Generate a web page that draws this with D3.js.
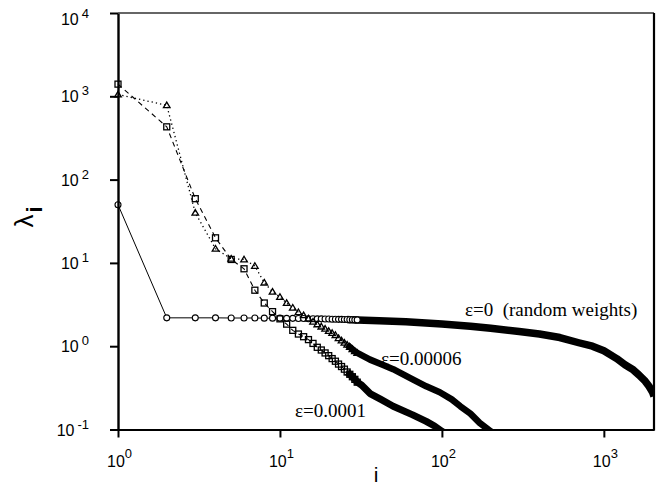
<!DOCTYPE html>
<html><head><meta charset="utf-8">
<script src="https://cdn.jsdelivr.net/npm/d3@7"></script>
<style>body{margin:0;background:#fff}svg{display:block}</style>
</head><body><svg id="c" width="665" height="487"></svg>
<script>
// ---------- data ----------
const rankLow = [1,2,3,4,5,6,7,8,9,10,11,12,13,14,15,16,17,18,19,20,21,22,23,24,25,26,27,28,29,30];
// eps = 0 (random weights), circles
const epsZeroLow = [50,2.19,2.19,2.19,2.18,2.18,2.18,2.17,2.17,2.17,2.16,2.16,2.15,2.15,2.14,2.14,2.13,2.13,2.12,2.12,2.11,2.11,2.1,2.1,2.09,2.09,2.08,2.08,2.07,2.07];
const epsZeroTailRank = [41,60,100,150,200,300,400,535,700,850,1000,1200,1350,1500,1650,1800,1900,2000,2040];
const epsZeroTailVal  = [2.02,1.96,1.85,1.74,1.64,1.5,1.4,1.27,1.1,1.0,0.88,0.71,0.6,0.53,0.45,0.38,0.33,0.28,0.25];
// eps = 0.0001, squares
const eps1Low = [1400,430,59,20,11,8.5,4.7,3.3,2.6,2.13,1.84,1.55,1.4,1.3,1.2,1.08,0.97,0.9,0.83,0.77,0.71,0.66,0.61,0.57,0.53,0.49,0.46,0.43,0.4,0.37];
const eps1TailRank = [32,36,42,50,66,80,90,100,110];
const eps1TailVal  = [0.34,0.27,0.23,0.19,0.15,0.125,0.11,0.095,0.085];
// eps = 0.00006, triangles
const eps2Low = [1050,780,40,14.8,11.2,11,9.2,5.8,4.5,3.9,3.3,2.9,2.56,2.35,2.15,1.97,1.83,1.72,1.62,1.52,1.44,1.36,1.25,1.17,1.1,1.04,0.98,0.92,0.87,0.83];
const eps2TailRank = [36,43,50,66,80,97,115,130,150,171,200,220];
const eps2TailVal  = [0.69,0.6,0.53,0.4,0.33,0.28,0.23,0.19,0.155,0.12,0.095,0.085];

const xTicks = [1,10,100,1000];
const xTickExp = ["0","1","2","3"];
const yTicks = [0.1,1,10,100,1000,10000];
const yTickExp = ["-1","0","1","2","3","4"];
const seriesLabels = ["\u03b5=0  (random weights)","\u03b5=0.00006","\u03b5=0.0001"];

// ---------- drawing ----------
const svg = d3.select("#c");
const L = 118, R = 654, T = 13, B = 429.5;
const x = d3.scaleLog().domain([1, 2040]).range([L, R]);
const y = d3.scaleLog().domain([0.1, 10000]).range([B, T]);

svg.append("rect").attr("width",665).attr("height",487).attr("fill","#fff");
svg.append("defs").append("clipPath").attr("id","clip")
  .append("rect").attr("x",112).attr("y",T-6).attr("width",R-112).attr("height",B-T+6);

const pairs = (r, v) => r.map((d,k)=>[d, v[k]]);
const zeroLow = pairs(rankLow, epsZeroLow), zeroTail = pairs(epsZeroTailRank, epsZeroTailVal);
const e1Low = pairs(rankLow, eps1Low), e1Tail = pairs(eps1TailRank, eps1TailVal);
const e2Low = pairs(rankLow, eps2Low), e2Tail = pairs(eps2TailRank, eps2TailVal);

const line = d3.line().x(d=>x(d[0])).y(d=>y(d[1]));
const plot = svg.append("g").attr("clip-path","url(#clip)");

// thin connecting lines
plot.append("path").datum(zeroLow.concat(zeroTail)).attr("d",line)
  .attr("fill","none").attr("stroke","#000").attr("stroke-width",1);
plot.append("path").datum(e1Low.concat(e1Tail)).attr("d",line)
  .attr("fill","none").attr("stroke","#000").attr("stroke-width",1.1).attr("stroke-dasharray","5,4");
plot.append("path").datum(e2Low.concat(e2Tail)).attr("d",line)
  .attr("fill","none").attr("stroke","#000").attr("stroke-width",1.3).attr("stroke-dasharray","1.3,3");

// dense tails (markers overlapping into a band)
const band = (low, tail, w) => plot.append("path")
  .datum(low.filter(d=>d[0]>=26).concat(tail)).attr("d",line)
  .attr("fill","none").attr("stroke","#000").attr("stroke-width",w)
  .attr("stroke-linejoin","round").attr("stroke-linecap","butt");
band(zeroLow, zeroTail, 7.5);
band(e1Low, e1Tail, 7);
band(e2Low, e2Tail, 6.5);

// markers
plot.selectAll("circle.m").data(zeroLow).join("circle")
  .attr("cx",d=>x(d[0])).attr("cy",d=>y(d[1])).attr("r",3)
  .attr("fill","#fff").attr("stroke","#000").attr("stroke-width",1.1);
plot.selectAll("rect.m").data(e1Low).join("rect")
  .attr("x",d=>x(d[0])-3).attr("y",d=>y(d[1])-3).attr("width",6).attr("height",6)
  .attr("fill","none").attr("stroke","#000").attr("stroke-width",1.3);
plot.selectAll("path.tri").data(e2Low).join("path").attr("class","tri")
  .attr("d",d=>{const cx=x(d[0]), cy=y(d[1]); return `M${cx},${cy-3.2}L${cx+3.3},${cy+2.4}L${cx-3.3},${cy+2.4}Z`;})
  .attr("fill","none").attr("stroke","#000").attr("stroke-width",1.3);

// axes
const ax = svg.append("g").attr("transform",`translate(0,${B})`)
  .call(d3.axisBottom(x).tickValues(xTicks).tickSize(8).tickSizeOuter(0).tickFormat(""));
const ay = svg.append("g").attr("transform",`translate(${L},0)`)
  .call(d3.axisLeft(y).tickValues(yTicks).tickSize(8).tickSizeOuter(0).tickFormat(""));
ax.select(".domain").attr("stroke-width",2.2);
ay.select(".domain").attr("stroke-width",2.4);
ax.selectAll(".tick line").attr("stroke-width",2);
ay.selectAll(".tick line").attr("stroke-width",2);
// frame
svg.append("line").attr("x1",L).attr("x2",R).attr("y1",T).attr("y2",T)
  .attr("stroke","#333").attr("stroke-width",1.6);
svg.append("line").attr("x1",R).attr("x2",R).attr("y1",T).attr("y2",B+1)
  .attr("stroke","#000").attr("stroke-width",2.2);

// tick labels
const sans = "'Liberation Sans', Arial, Helvetica, sans-serif";
xTicks.forEach((v,k)=>{
  const t = svg.append("text").attr("x",x(v)+1.5).attr("y",467)
    .attr("text-anchor","middle").attr("font-family",sans).attr("font-size",16);
  t.append("tspan").text("10");
  t.append("tspan").attr("dy",-9).attr("font-size",13).text(xTickExp[k]);
});
yTicks.forEach((v,k)=>{
  const base = (k===yTicks.length-1) ? y(v)+12 : y(v)+6;
  const t = svg.append("text").attr("x",89).attr("y",base)
    .attr("text-anchor","end").attr("font-family",sans).attr("font-size",16);
  t.append("tspan").text("10");
  t.append("tspan").attr("dx",3).attr("dy",-7).attr("font-size",13).text(yTickExp[k]);
});

// axis titles
svg.append("text").attr("x",376).attr("y",482).attr("text-anchor","middle")
  .attr("font-family",sans).attr("font-size",21).text("i");
const yt = svg.append("text").attr("transform","translate(33,217) rotate(-90)")
  .attr("text-anchor","middle").attr("font-family",sans).attr("font-size",26);
yt.append("tspan").text("\u03bb");
yt.append("tspan").attr("dx",2).attr("dy",9).attr("font-size",22).attr("font-weight","bold").text("i");

// series labels
const serif = "'Liberation Serif', 'Times New Roman', serif";
const labPos = [[465,316],[381,365],[295,417]];
seriesLabels.forEach((s,k)=>{
  svg.append("text").attr("x",labPos[k][0]).attr("y",labPos[k][1])
    .attr("font-family",serif).attr("font-size",19).style("white-space","pre").text(s);
});
</script></body></html>
